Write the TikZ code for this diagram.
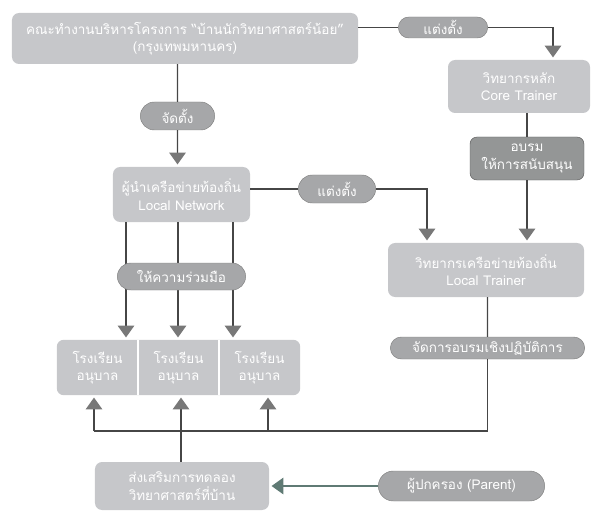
\documentclass[tikz,border=0pt]{standalone}
\usepackage{fontspec}
\newfontfamily\thaifont[Script=Thai]{Loma}
\usetikzlibrary{arrows.meta, shapes.misc, backgrounds}

\definecolor{boxgray}{RGB}{198,199,202}
\definecolor{pillgray}{RGB}{166,167,169}
\definecolor{deepgray}{RGB}{148,150,150}
\definecolor{linegray}{RGB}{70,70,70}
\definecolor{tipgray}{RGB}{120,120,120}
\definecolor{tealgray}{RGB}{95,122,116}

\begin{document}
\begin{tikzpicture}[x=0.03cm, y=-0.03cm, font=\thaifont\fontsize{11.5}{15}\selectfont,
	box/.style={fill=boxgray, rounded corners=6pt, text=white, align=center, inner sep=2pt},
	darkbox/.style={box, fill=deepgray, draw=gray!70!black},
	pill/.style={rounded rectangle, fill=pillgray, draw=gray, text=white, inner sep=2pt},
	school/.style={text=white, align=center, minimum width=2.43cm, minimum height=1.65cm, inner sep=1pt},
	link/.style={draw=linegray, line width=1.1pt},
	arrow/.style={link, -{Triangle[width=14pt, length=10pt, color=tipgray]}, shorten >=2pt}]
	\useasboundingbox (0,0) rectangle (593,513);
	
	% top row
	\node[box, minimum width=10.38cm, minimum height=1.53cm] (team) at (185,38.5) {คณะทำงานบริหารโครงการ “บ้านนักวิทยาศาสตร์น้อย”\\(กรุงเทพมหานคร)};
	\node[pill, minimum width=2.82cm, minimum height=0.63cm] (appointA) at (443,27.5) {แต่งตั้ง};
	\node[box, minimum width=4.26cm, minimum height=1.59cm] (core) at (519,86.5) {วิทยากรหลัก\\Core Trainer};
	\node[darkbox, minimum width=3.42cm, minimum height=1.29cm] (train) at (527,158.5) {อบรม\\ให้การสนับสนุน};
	
	% middle
	\node[pill, minimum width=2.37cm, minimum height=0.84cm] (setup) at (177.5,116) {จัดตั้ง};
	\node[box, minimum width=4.11cm, minimum height=1.65cm] (network) at (181.5,194.5) {ผู้นำเครือข่ายท้องถิ่น\\Local Network};
	\node[pill, minimum width=2.46cm, minimum height=0.84cm] (appointB) at (337,189) {แต่งตั้ง};
	\node[box, minimum width=5.88cm, minimum height=1.62cm] (localtr) at (486,270) {วิทยากรเครือข่ายท้องถิ่น\\Local Trainer};
	
	% schools
	\foreach \i/\x in {1/97.5, 2/178.5, 3/259.5}
		\node[school] (school\i) at (\x,367.5) {โรงเรียน\\อนุบาล};
	\begin{scope}[on background layer]
		\fill[boxgray, rounded corners=6pt] (school1.north west) rectangle (school3.south east);
	\end{scope}
	\draw[white, line width=1.5pt] (school1.north east) -- (school1.south east);
	\draw[white, line width=1.5pt] (school2.north east) -- (school2.south east);
	
	\node[pill, minimum width=5.97cm, minimum height=0.66cm] (workshop) at (487.5,348) {จัดการอบรมเชิงปฏิบัติการ};
	
	% bottom row
	\node[box, minimum width=5.22cm, minimum height=1.44cm] (promote) at (182,486) {ส่งเสริมการทดลอง\\วิทยาศาสตร์ที่บ้าน};
	\node[pill, minimum width=5.13cm, minimum height=0.9cm] (parent) at (461.5,486) {ผู้ปกครอง (Parent)};
	
	% connectors
	\draw[link] (team.east |- appointA) -- (appointA);
	\draw[arrow] (appointA) -| ([xshift=1.02cm]core.north);
	\draw[link] (core.south -| train) -- (train);
	\draw[arrow] (train) -- (train |- localtr.north);
	
	\draw[link] (team.south -| setup) -- (setup);
	\draw[arrow] (setup) -- (setup |- network.north);
	\draw[link] (network.east |- appointB) -- (appointB);
	\draw[arrow] (appointB) -| ([xshift=-1.77cm]localtr.north);
	
	\foreach \i/\x in {1/126, 2/178, 3/233}
		\draw[arrow] (\x,0 |- network.south) -- (\x,0 |- school\i.north);
	\node[pill, minimum width=3.99cm, minimum height=0.81cm] (helpout) at (181.5,276.5) {ให้ความร่วมมือ};
	
	\draw[link] (localtr.south -| workshop) -- (workshop);
	\coordinate (bus) at (94,431);
	\draw[link] (workshop) |- (bus);
	\foreach \i/\x in {1/94, 2/181, 3/268}
		\draw[arrow] (\x,0 |- bus) -- (\x,0 |- school\i.south);
	\draw[link] (181,0 |- promote.north) -- (181,0 |- bus);
	\draw[arrow, draw=tealgray, -{Triangle[width=14pt, length=10pt, color=tealgray]}] (parent) -- (promote);
\end{tikzpicture}
\end{document}
